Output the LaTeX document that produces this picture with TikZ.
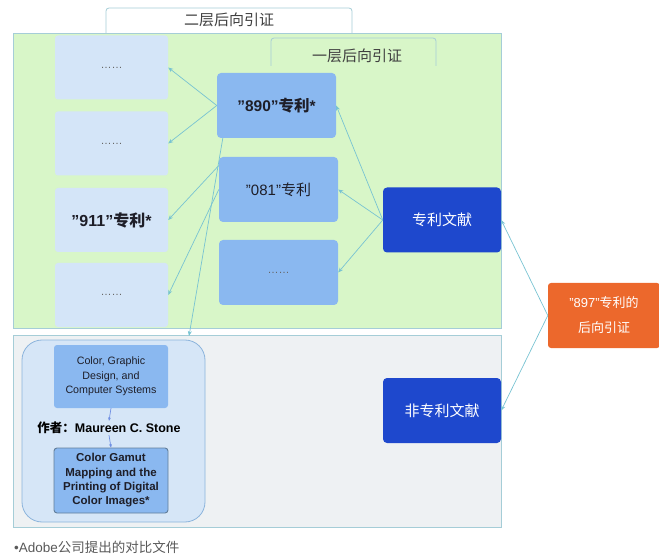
\documentclass[tikz,border=0pt]{standalone}
\usepackage{fontspec}
\setmainfont{Liberation Sans}
\newfontfamily\cjk{Noto Sans CJK SC}
\usetikzlibrary{arrows.meta}
\definecolor{greenbg}{RGB}{216,246,200}
\definecolor{regionline}{RGB}{165,205,215}
\definecolor{graybg}{RGB}{238,241,243}
\definecolor{lightbox}{RGB}{212,229,248}
\definecolor{midbox}{RGB}{138,184,240}
\definecolor{darkbox}{RGB}{30,72,205}
\definecolor{orangebox}{RGB}{236,104,44}
\definecolor{conn}{RGB}{120,195,210}
\definecolor{contfill}{RGB}{214,230,247}
\definecolor{contline}{RGB}{140,180,220}
\definecolor{txt}{RGB}{30,30,40}
\tikzset{
  region/.style={draw=regionline, line width=0.8pt, inner sep=0pt},
  lightb/.style={fill=lightbox, rounded corners=3pt, inner sep=0pt, minimum width=113pt, minimum height=64pt, text=txt},
  midb/.style={fill=midbox, rounded corners=4pt, inner sep=0pt, minimum width=119pt, minimum height=65pt, text=txt},
  darkb/.style={fill=darkbox, rounded corners=4pt, inner sep=0pt, minimum width=118pt, minimum height=65pt, text=white, font=\cjk\fontsize{15}{17}\selectfont},
  labelbox/.style={draw=regionline, line width=0.8pt, rounded corners=3pt},
  conn/.style={draw=conn, line width=0.7pt, -{Stealth[length=5pt,width=4pt]}},
  innerconn/.style={draw=contline!80!blue, line width=0.7pt, -{Stealth[length=3.5pt,width=3pt]}},
  dots/.style={font=\fontsize{11}{12}\selectfont, text=black!60},
}
\begin{document}
\begin{tikzpicture}[x=1pt,y=-1pt]
\useasboundingbox (0,0) rectangle (659,556);
% top label box (level two)
\node[labelbox, fill=white, minimum width=246pt, minimum height=34pt, inner sep=0pt] (lab2box) at (229,25) {};
% regions
\node[region, fill=greenbg, minimum width=488pt, minimum height=295pt] (patreg) at (257,180.5) {};
\node[region, fill=graybg, minimum width=488pt, minimum height=192pt] (npreg) at (257,431) {};
\node[text=black!75, font=\cjk\fontsize{15}{16}\selectfont] (lab2) at (229,20) {二层后向引证};
% level one label box (open bottom)
\draw[draw=regionline, line width=0.8pt, rounded corners=3pt] (271,66) -- (271,38) -- (436,38) -- (436,66);
\node[text=black!75, font=\cjk\fontsize{15}{16}\selectfont] (lab1) at (357,56) {一层后向引证};
% left column
\node[lightb, dots] (b1) at (111.5,67.5) {……};
\node[lightb, dots] (b2) at (111.5,143.5) {……};
\node[lightb, font=\bfseries\fontsize{16}{18}\selectfont] (b3) at (111.5,220) {”911”{\cjk 专利}*};
\node[lightb, dots] (b4) at (111.5,295) {……};
% middle column
\node[midb, font=\bfseries\fontsize{15.5}{17}\selectfont] (m1) at (276.5,105.5) {”890”{\cjk 专利}*};
\node[midb, font=\fontsize{15}{17}\selectfont] (m2) at (278.5,189.5) {”081”{\cjk 专利}};
\node[midb, dots] (m3) at (278.5,272.5) {……};
% right column
\node[darkb] (pat) at (442,220) {专利文献};
\node[darkb] (npat) at (442,410.5) {非专利文献};
\node[fill=orangebox, rounded corners=3pt, inner sep=0pt, minimum width=112pt, minimum height=65pt, text=white, align=center, font=\fontsize{13}{25}\selectfont] (ora) at (604,315.5) {”897”{\cjk 专利的}\\{\cjk 后向引证}};
% non-patent container
\node[draw=contline, fill=contfill, line width=0.8pt, rounded corners=20pt, minimum width=183pt, minimum height=182pt, inner sep=0pt] (cont) at (113.5,431) {};
\node[fill=midbox, rounded corners=3pt, inner sep=0pt, minimum width=114pt, minimum height=63pt, align=center, text=txt, font=\fontsize{10.7}{14.5}\selectfont] (cg) at (111,376.5) {Color, Graphic\\Design, and\\Computer Systems};
\node[text=black, font=\bfseries\fontsize{12.5}{14}\selectfont, inner sep=1pt] (author) at (109,428) {{\cjk 作者：}Maureen C. Stone};
\node[draw=contline!70!black, fill=midbox, line width=0.9pt, rounded corners=3pt, inner sep=0pt, minimum width=114pt, minimum height=65pt, align=center, text=txt, font=\bfseries\fontsize{11.5}{14.3}\selectfont] (gamut) at (111,480.5) {Color Gamut\\Mapping and the\\Printing of Digital\\Color Images*};
% footnote
\node[anchor=west, text=black!65, font=\fontsize{13.5}{15}\selectfont, inner sep=0pt] (foot) at (14,547) {•Adobe{\cjk 公司提出的对比文件}};
% connectors
\coordinate (cin) at (189,336);
\draw[conn] (ora.west) -- (pat.east);
\draw[conn] (ora.west) -- (npat.east);
\draw[conn] (pat.west) -- (m1.east);
\draw[conn] (pat.west) -- (m2.east);
\draw[conn] (pat.west) -- (m3.east);
\draw[conn] (m1.west) -- (b1.east);
\draw[conn] (m1.west) -- (b2.east);
\draw[conn] ([yshift=24pt]m2.west) -- (b3.east);
\draw[conn] (m2.west) -- (b4.east);
\draw[conn] ([xshift=6pt]m1.south west) -- (cin);
\draw[innerconn] (cg.south) -- (author.north);
\draw[innerconn] (author.south) -- (gamut.north);
\end{tikzpicture}
\end{document}
